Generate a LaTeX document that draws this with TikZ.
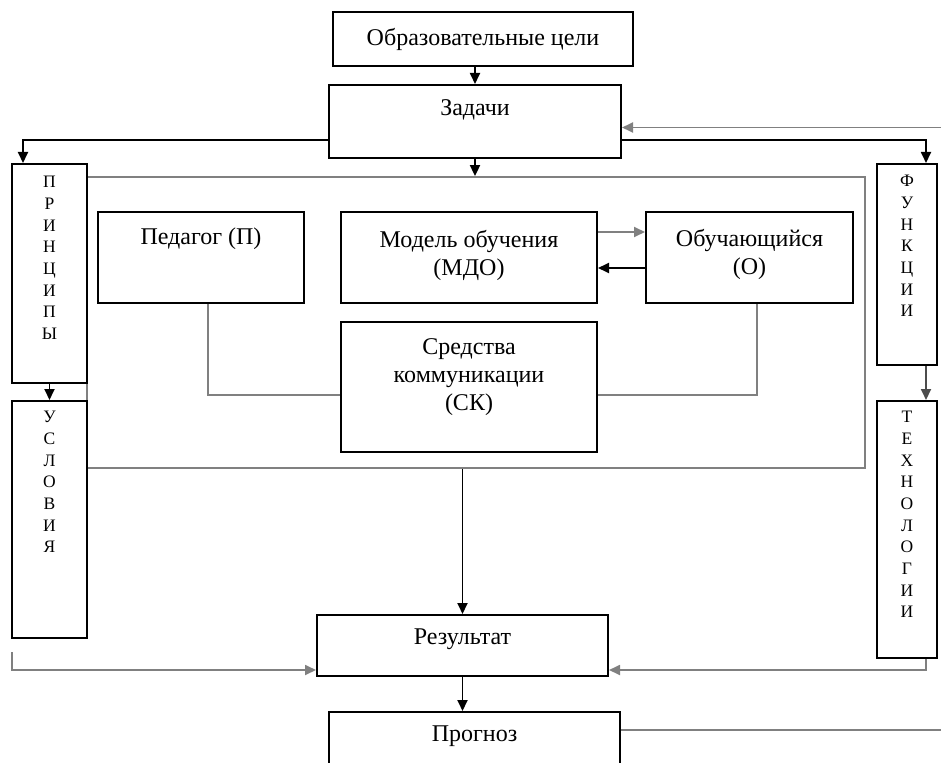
\documentclass[tikz,border=0pt]{standalone}
\usepackage{fontspec}
\setmainfont{Liberation Serif}
\usetikzlibrary{arrows.meta}
\newcommand\bigtxt{\fontsize{24}{28}\selectfont}
\newcommand\lettxt{\fontsize{17.5}{21.7}\selectfont}
\tikzset{
  box/.style={draw, line width=2pt, rectangle, inner sep=0pt, font=\bigtxt},
  boxtext/.style={anchor=north, inner sep=0pt, font=\bigtxt, align=center},
  lettext/.style={anchor=north, inner sep=0pt, font=\lettxt, align=center},
  arr/.style={-{Triangle[length=11pt,width=10pt]}, line width=1.8pt},
  garr/.style={arr, draw=black!50},
  gline/.style={line width=1.8pt, draw=black!50}
}
\begin{document}
\begin{tikzpicture}[x=1pt,y=-1pt]
  \clip (0,0) rectangle (941,762);
  % frame round the inner model
  \node[gline, draw, minimum width=778, minimum height=291, inner sep=0pt] (frame) at (476,322.5) {};
  % top
  \node[box, minimum width=300, minimum height=54] (goal) at (483,39) {Образовательные цели};
  \node[box, minimum width=292, minimum height=73, label={[boxtext, yshift=-15]north:Задачи}] (tasks) at (475,121.5) {};
  % side columns
  \node[box, minimum width=75, minimum height=219, label={[lettext, yshift=-13]north:П\\Р\\И\\Н\\Ц\\И\\П\\Ы}] (princ) at (49.5,273.5) {};
  \node[box, minimum width=75, minimum height=237, label={[lettext, yshift=-11]north:У\\С\\Л\\О\\В\\И\\Я}] (cond) at (49.5,519.5) {};
  \node[box, minimum width=60, minimum height=201, label={[lettext, yshift=-12]north:Ф\\У\\Н\\К\\Ц\\И\\И}] (func) at (907,264.5) {};
  \node[box, minimum width=60, minimum height=257, label={[lettext, yshift=-11]north:Т\\Е\\Х\\Н\\О\\Л\\О\\Г\\И\\И}] (tech) at (907,529.5) {};
  % inner model
  \node[box, minimum width=206, minimum height=91, label={[boxtext, yshift=-17]north:Педагог (П)}] (ped) at (201,257.5) {};
  \node[box, minimum width=256, minimum height=91, label={[boxtext, yshift=-19]north:Модель обучения\\(МДО)}] (mdo) at (469,257.5) {};
  \node[box, minimum width=207, minimum height=91, label={[boxtext, yshift=-18]north:Обучающийся\\(О)}] (learner) at (749.5,257.5) {};
  \node[box, minimum width=256, minimum height=130, label={[boxtext, yshift=-17]north:Средства\\коммуникации\\(СК)}] (sk) at (469,387) {};
  % bottom
  \node[box, minimum width=291, minimum height=61, label={[boxtext, yshift=-15]north:Результат}] (res) at (462.5,645.5) {};
  \node[box, minimum width=291, minimum height=66, label={[boxtext, yshift=-15]north:Прогноз}] (prog) at (474.5,745) {};
  % free ends
  \coordinate (inR) at (941,127.5);
  \coordinate (inL) at (12,652);
  \coordinate (outR) at (941,730);
  % connectors
  \draw[arr] (tasks.north |- goal.south) -- (tasks.north);
  \draw[arr] (tasks.south) -- (tasks.south |- frame.north);
  \draw[arr] ([yshift=-18.5]tasks.west) -| ([xshift=-26.5]princ.north);
  \draw[arr] ([yshift=-18.5]tasks.east) -| ([xshift=19]func.north);
  \draw[garr] (inR) -- (inR -| tasks.east);
  \draw[arr] (princ.south) -- (cond.north);
  \draw[arr, draw=black!70] ([xshift=19]func.south) -- ([xshift=19]tech.north);
  \draw[garr] ([yshift=25.5]mdo.east) -- ([yshift=25.5]learner.west);
  \draw[arr] ([yshift=-10.5]learner.west) -- ([yshift=-10.5]mdo.east);
  \draw[gline] ([xshift=7]ped.south) |- ([yshift=-8]sk.west);
  \draw[gline] ([xshift=7.5]learner.south) |- ([yshift=-8]sk.east);
  \draw[arr] (res.north |- frame.south) -- (res.north);
  \draw[garr] (inL) |- ([yshift=-24.5]res.west);
  \draw[garr] ([xshift=19]tech.south) |- ([yshift=-24.5]res.east);
  \draw[arr] (res.south) -- (res.south |- prog.north);
  \draw[gline] (prog.east |- outR) -- (outR);
\end{tikzpicture}
\end{document}
